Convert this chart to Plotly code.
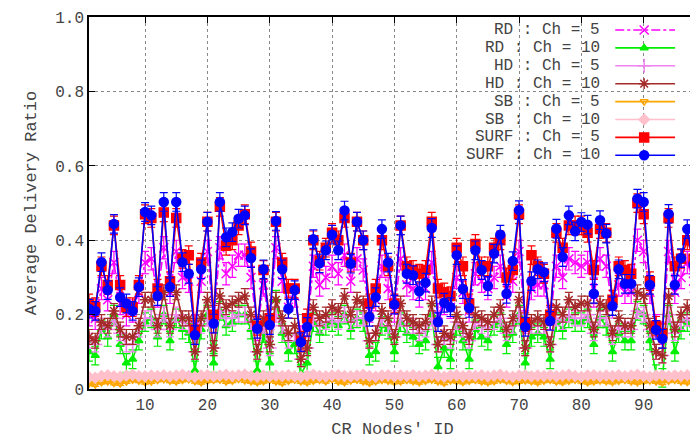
import plotly.graph_objects as go

# ── data ──────────────────────────────────────────────────────────────────────
SURF10 = [0.216,0.21,0.341,0.266,0.444,0.247,0.23,0.21,0.274,0.476,0.467,0.25,0.503,0.274,0.503,0.341,0.31,0.145,0.322,0.45,
          0.176,0.503,0.408,0.422,0.458,0.467,0.352,0.162,0.322,0.172,0.452,0.322,0.216,0.266,0.126,0.167,0.403,0.338,0.373,0.415,
          0.373,0.48,0.337,0.45,0.40,0.194,0.247,0.43,0.34,0.227,0.44,0.31,0.306,0.263,0.286,0.433,0.18,0.232,0.22,0.36,
          0.269,0.218,0.373,0.32,0.277,0.364,0.415,0.256,0.344,0.481,0.167,0.29,0.322,0.314,0.183,0.431,0.355,0.467,0.424,0.449,
          0.442,0.256,0.454,0.418,0.223,0.322,0.283,0.283,0.512,0.503,0.28,0.159,0.135,0.471,0.28,0.352,0.43,0.334,0.30,0.36]
SURF5 = [0.23,0.22,0.33,0.28,0.44,0.28,0.22,0.22,0.28,0.47,0.46,0.27,0.475,0.29,0.46,0.35,0.36,0.16,0.34,0.45,
         0.20,0.49,0.385,0.40,0.44,0.47,0.37,0.17,0.32,0.19,0.45,0.34,0.27,0.27,0.13,0.19,0.40,0.345,0.38,0.42,
         0.40,0.46,0.34,0.45,0.40,0.23,0.27,0.40,0.33,0.23,0.44,0.33,0.32,0.31,0.32,0.45,0.27,0.26,0.25,0.38,
         0.33,0.23,0.39,0.33,0.33,0.38,0.40,0.30,0.32,0.47,0.18,0.36,0.33,0.31,0.20,0.42,0.38,0.44,0.44,0.44,
         0.42,0.32,0.43,0.42,0.24,0.33,0.32,0.31,0.50,0.47,0.29,0.17,0.15,0.46,0.33,0.35,0.40,0.35,0.31,0.34]
RD5 = [0.20,0.19,0.27,0.24,0.34,0.23,0.20,0.21,0.26,0.34,0.35,0.25,0.38,0.26,0.37,0.30,0.29,0.17,0.29,0.37,
       0.18,0.38,0.31,0.33,0.36,0.36,0.30,0.16,0.28,0.17,0.38,0.29,0.22,0.25,0.14,0.17,0.33,0.28,0.30,0.33,
       0.31,0.36,0.29,0.35,0.32,0.21,0.24,0.33,0.27,0.21,0.35,0.28,0.27,0.25,0.27,0.34,0.20,0.23,0.22,0.30,
       0.26,0.21,0.31,0.29,0.27,0.30,0.33,0.25,0.29,0.37,0.18,0.27,0.28,0.28,0.19,0.33,0.30,0.35,0.34,0.33,
       0.34,0.25,0.35,0.33,0.22,0.28,0.26,0.26,0.40,0.37,0.26,0.17,0.15,0.37,0.26,0.30,0.34,0.29,0.27,0.30]
RD10 = [0.10,0.09,0.16,0.14,0.20,0.12,0.07,0.08,0.13,0.18,0.19,0.14,0.20,0.13,0.19,0.16,0.15,0.05,0.16,0.20,
        0.07,0.21,0.17,0.18,0.20,0.20,0.16,0.05,0.15,0.07,0.24,0.15,0.10,0.12,0.04,0.07,0.18,0.15,0.17,0.18,
        0.17,0.20,0.16,0.19,0.18,0.09,0.10,0.17,0.16,0.10,0.18,0.15,0.14,0.12,0.13,0.20,0.06,0.11,0.08,0.17,
        0.13,0.08,0.16,0.14,0.13,0.17,0.18,0.12,0.15,0.20,0.07,0.14,0.15,0.14,0.08,0.18,0.16,0.19,0.18,0.18,
        0.19,0.12,0.19,0.17,0.10,0.15,0.13,0.13,0.21,0.20,0.13,0.04,0.03,0.20,0.10,0.16,0.18,0.15,0.14,0.15]
HD5 = [0.13,0.12,0.17,0.16,0.19,0.15,0.12,0.12,0.16,0.19,0.19,0.16,0.20,0.16,0.20,0.18,0.17,0.10,0.17,0.19,
       0.11,0.21,0.19,0.19,0.20,0.20,0.18,0.10,0.17,0.11,0.20,0.17,0.13,0.15,0.08,0.11,0.19,0.17,0.18,0.19,
       0.18,0.20,0.18,0.19,0.19,0.13,0.15,0.19,0.17,0.14,0.19,0.17,0.17,0.15,0.16,0.19,0.12,0.14,0.13,0.18,
       0.16,0.13,0.18,0.17,0.16,0.18,0.19,0.15,0.17,0.20,0.11,0.17,0.17,0.17,0.12,0.19,0.18,0.20,0.19,0.19,
       0.20,0.15,0.19,0.19,0.14,0.17,0.16,0.16,0.21,0.20,0.16,0.10,0.09,0.20,0.15,0.18,0.19,0.17,0.16,0.17]
HD10 = [0.14,0.13,0.18,0.17,0.21,0.16,0.14,0.14,0.17,0.24,0.24,0.17,0.26,0.17,0.26,0.19,0.19,0.10,0.19,0.24,
        0.11,0.25,0.22,0.23,0.24,0.25,0.20,0.10,0.19,0.12,0.24,0.19,0.15,0.17,0.08,0.11,0.22,0.19,0.20,0.22,
        0.21,0.25,0.20,0.24,0.23,0.13,0.15,0.21,0.19,0.14,0.23,0.19,0.18,0.17,0.18,0.23,0.12,0.15,0.14,0.20,
        0.17,0.14,0.20,0.19,0.18,0.20,0.22,0.16,0.19,0.24,0.11,0.18,0.19,0.18,0.12,0.22,0.20,0.24,0.22,0.23,
        0.23,0.16,0.23,0.22,0.15,0.19,0.17,0.17,0.26,0.25,0.17,0.10,0.09,0.25,0.16,0.20,0.22,0.19,0.18,0.19]
SB5 = [0.015,0.012,0.018,0.02,0.016,0.015,0.02,0.025,0.022,0.018,0.02,0.024,0.026,0.022,0.02,0.024,0.026,0.021,0.018,0.022,
       0.024,0.025,0.02,0.022,0.027,0.023,0.02,0.018,0.021,0.024,0.02,0.017,0.022,0.025,0.02,0.018,0.022,0.024,0.021,0.026,
       0.02,0.018,0.023,0.025,0.02,0.017,0.021,0.024,0.022,0.019,0.02,0.024,0.021,0.018,0.022,0.025,0.02,0.017,0.023,0.021,
       0.019,0.022,0.024,0.02,0.018,0.021,0.025,0.022,0.019,0.02,0.023,0.021,0.018,0.022,0.024,0.02,0.019,0.022,0.025,0.021,
       0.018,0.02,0.023,0.021,0.019,0.022,0.024,0.02,0.018,0.021,0.023,0.02,0.017,0.022,0.024,0.02,0.019,0.022,0.021,0.02]
SB10 = [0.032,0.03,0.035,0.037,0.034,0.033,0.036,0.038,0.035,0.034,0.036,0.035,0.037,0.034,0.036,0.038,0.035,0.033,0.036,0.037,
        0.034,0.036,0.038,0.035,0.037,0.039,0.035,0.033,0.036,0.034,0.036,0.035,0.037,0.034,0.033,0.036,0.038,0.035,0.034,0.036,
        0.037,0.035,0.034,0.036,0.038,0.035,0.033,0.036,0.037,0.034,0.036,0.035,0.037,0.034,0.036,0.038,0.035,0.033,0.036,0.037,
        0.034,0.036,0.035,0.037,0.034,0.036,0.038,0.035,0.033,0.036,0.037,0.034,0.036,0.035,0.037,0.034,0.036,0.038,0.035,0.033,
        0.036,0.037,0.034,0.036,0.035,0.037,0.034,0.036,0.038,0.035,0.033,0.036,0.037,0.034,0.036,0.035,0.037,0.034,0.036,0.035]

NAMES = ["RD : Ch = 5", "RD : Ch = 10", "HD : Ch = 5", "HD : Ch = 10",
         "SB : Ch = 5", "SB : Ch = 10", "SURF : Ch = 5", "SURF : Ch = 10"]
SERIES = [RD5, RD10, HD5, HD10, SB5, SB10, SURF5, SURF10]
ERRORS = [0.03, 0.025, 0.02, 0.02, 0.005, 0.004, 0.025, 0.025]

STYLES = [
    dict(color="#FF00FF", symbol="x-thin-open", size=9, dash="dashdot"),
    dict(color="#00EE00", symbol="triangle-up", size=7, dash="solid"),
    dict(color="#EE82EE", symbol="cross-thin-open", size=10, dash="solid"),
    dict(color="#A52A2A", symbol="asterisk-open", size=9, dash="solid"),
    dict(color="#FFA500", symbol="triangle-down-open", size=7, dash="solid"),
    dict(color="#FFC0CB", symbol="diamond", size=8, dash="solid"),
    dict(color="#FF0000", symbol="square", size=9, dash="solid"),
    dict(color="#0000FF", symbol="circle", size=9, dash="solid"),
]

MONO = "Liberation Mono, DejaVu Sans Mono, monospace"
TXT = "#444444"

fig = go.Figure()
for name, ys, err, st in zip(NAMES, SERIES, ERRORS, STYLES):
    x = list(range(1, len(ys) + 1))
    fig.add_trace(go.Scatter(
        x=x, y=ys, mode="lines+markers", name=name, showlegend=False,
        line=dict(color=st["color"], width=1.6, dash=st["dash"]),
        marker=dict(color=st["color"], symbol=st["symbol"], size=st["size"],
                    line=dict(color=st["color"], width=1.5)),
        error_y=dict(type="constant", value=err, color=st["color"], thickness=1.2, width=4),
    ))

# legend drawn by hand (page pixels of the reference): text left, sample right
L, PW, B, PH = 89, 609, 387, 372
for i, (name, st) in enumerate(zip(NAMES, STYLES)):
    py = 28 + i * 17.9
    yy = (B - py) / PH
    fig.add_trace(go.Scatter(
        x=[(617 - L) / PW, (677 - L) / PW], y=[yy, yy], xaxis="x2", yaxis="y2",
        mode="lines", showlegend=False, hoverinfo="skip",
        line=dict(color=st["color"], width=1.6, dash=st["dash"])))
    fig.add_trace(go.Scatter(
        x=[(646 - L) / PW], y=[yy], xaxis="x2", yaxis="y2",
        mode="markers", showlegend=False, hoverinfo="skip",
        marker=dict(color=st["color"], symbol=st["symbol"], size=st["size"],
                    line=dict(color=st["color"], width=1.5))))
    fig.add_annotation(x=(604 - L) / PW, y=yy, xref="x2", yref="y2", text=name.replace(" ", "&nbsp;"),
                       showarrow=False, xanchor="right", yanchor="middle",
                       font=dict(family=MONO, size=16, color=TXT))

fig.update_layout(
    width=690, height=433,
    margin=dict(l=81, r=0, t=9, b=52),
    paper_bgcolor="white", plot_bgcolor="white",
    font=dict(family=MONO, size=16, color=TXT),
    xaxis=dict(range=[1, 98.4], tickvals=[10, 20, 30, 40, 50, 60, 70, 80, 90],
               showgrid=True, gridcolor="#888888", griddash="dot", gridwidth=1,
               ticks="inside", ticklen=6, tickcolor="#000", mirror="ticks",
               showline=True, linecolor="#000", linewidth=1.5, zeroline=False,
               title=dict(text="CR Nodes' ID", standoff=8, font=dict(size=17))),
    yaxis=dict(range=[0, 1.0005], tickvals=[0, 0.2, 0.4, 0.6, 0.8, 1.0],
               ticktext=["0", "0.2", "0.4", "0.6", "0.8", "1.0"],
               showgrid=True, gridcolor="#888888", griddash="dot", gridwidth=1,
               ticks="inside", ticklen=6, tickcolor="#000", mirror="ticks",
               showline=True, linecolor="#000", linewidth=1.5, zeroline=False,
               title=dict(text="Average Delivery Ratio", standoff=14, font=dict(size=17))),
    xaxis2=dict(overlaying="x", range=[0, 1], visible=False),
    yaxis2=dict(overlaying="y", range=[0, 1], visible=False),
)

fig.write_html("out.html")
